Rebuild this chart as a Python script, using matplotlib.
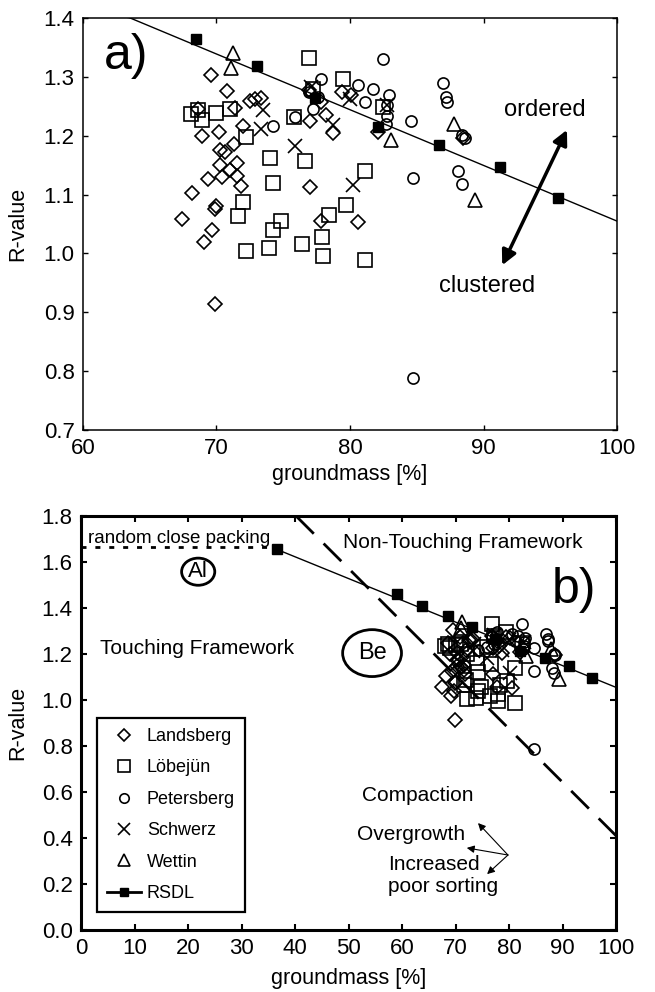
import matplotlib
matplotlib.use('Agg')
import matplotlib.pyplot as plt
from matplotlib.lines import Line2D
from matplotlib.patches import Ellipse

plt.rcParams['font.family'] = ['Liberation Sans', 'DejaVu Sans']

## Data (groundmass [%], R-value)
landsberg_x = [67.4, 68.2, 69.1, 69.7, 70.0, 69.9, 69.9, 69.4, 70.4, 70.3, 71.0, 71.5, 71.5, 71.8,
               70.3, 70.6, 71.3, 69.6, 70.8, 68.6, 71.4, 72.5, 72.9, 73.3, 68.9, 70.2, 72.0,
               77.0, 77.8, 80.6, 77.0, 78.2, 78.7, 79.4, 80.1, 77.8, 82.1, 88.5, 76.9]
landsberg_y = [1.058, 1.103, 1.019, 1.040, 1.080, 1.075, 0.914, 1.126, 1.130, 1.150, 1.142, 1.132, 1.153, 1.114,
               1.176, 1.173, 1.186, 1.303, 1.276, 1.246, 1.247, 1.259, 1.262, 1.265, 1.200, 1.206, 1.217,
               1.113, 1.055, 1.053, 1.225, 1.235, 1.204, 1.274, 1.269, 1.257, 1.207, 1.196, 1.277]

lobejun_x = [68.1, 68.6, 68.9, 70.0, 71.0, 72.2, 74.0, 76.6, 74.2, 75.8, 76.9, 79.5, 77.2, 72.0,
             71.6, 74.8, 78.4, 79.7, 74.2, 72.2, 73.9, 76.4, 77.9, 78.0, 81.1, 81.1, 82.5]
lobejun_y = [1.237, 1.243, 1.227, 1.238, 1.245, 1.198, 1.162, 1.157, 1.120, 1.232, 1.332, 1.296, 1.280, 1.087,
             1.064, 1.055, 1.066, 1.083, 1.040, 1.005, 1.010, 1.016, 1.028, 0.995, 0.989, 1.140, 1.249]

petersberg_x = [82.5, 77.8, 80.6, 81.7, 82.9, 81.1, 82.8, 82.8, 84.6, 77.2, 76.9, 77.6, 75.9, 74.2,
                87.0, 87.2, 87.3, 88.4, 88.6, 84.7, 88.1, 88.4, 84.7, 82.7]
petersberg_y = [1.330, 1.296, 1.286, 1.279, 1.269, 1.257, 1.252, 1.233, 1.225, 1.245, 1.274, 1.266, 1.232, 1.217,
                1.289, 1.266, 1.257, 1.201, 1.196, 1.128, 1.140, 1.118, 0.788, 1.220]

schwerz_x = [73.5, 73.3, 75.9, 77.1, 78.7, 80.0, 80.2, 82.8]
schwerz_y = [1.244, 1.212, 1.183, 1.283, 1.218, 1.262, 1.116, 1.252]

wettin_x = [71.2, 71.1, 83.1, 87.8, 89.4]
wettin_y = [1.340, 1.315, 1.193, 1.220, 1.091]

rsdl_x = [36.6, 59.1, 63.7, 68.5, 73.0, 77.4, 82.1, 86.7, 91.2, 95.6]
rsdl_y = [1.655, 1.461, 1.410, 1.364, 1.318, 1.264, 1.215, 1.184, 1.147, 1.094]
rsdl_line_x = [36.6, 100]
rsdl_line_y = [1.655, 1.055]

boundary_x = [40.2, 100]
boundary_y = [1.80, 0.41]
rcp_x = [0, 36.6]
rcp_y = [1.665, 1.665]

series = [
    ('Landsberg', landsberg_x, landsberg_y, 'D', 7.4),
    ('Löbejün', lobejun_x, lobejun_y, 's', 9.6),
    ('Petersberg', petersberg_x, petersberg_y, 'o', 8.0),
    ('Schwerz', schwerz_x, schwerz_y, 'x', 10.5),
    ('Wettin', wettin_x, wettin_y, '^', 9.5),
]


def draw_data(ax):
    for name, xs, ys, mk, ms in series:
        ax.plot(xs, ys, linestyle='none', marker=mk, markersize=ms, markerfacecolor='none',
                markeredgecolor='black', markeredgewidth=1.2, color='black')
    ax.plot(rsdl_line_x, rsdl_line_y, color='black', lw=1.0)
    ax.plot(rsdl_x, rsdl_y, linestyle='none', marker='s', markersize=6.5, color='black')


def style_axes(ax, spine_w, tick_len, tick_w):
    for sp in ax.spines.values():
        sp.set_linewidth(spine_w)
    ax.tick_params(direction='in', top=True, right=True, length=tick_len, width=tick_w,
                   labelsize=16, pad=6)


fig = plt.figure(figsize=(6.55, 9.92), dpi=100)

# ---- panel a
ax_a = fig.add_axes([0.1267, 0.5665, 0.8153, 0.4153])
draw_data(ax_a)
ax_a.set_xlim(60, 100)
ax_a.set_ylim(0.7, 1.4)
ax_a.set_xticks([60, 70, 80, 90, 100])
ax_a.set_yticks([0.7, 0.8, 0.9, 1.0, 1.1, 1.2, 1.3, 1.4])
style_axes(ax_a, 1.1, 3.6, 1.0)
ax_a.set_xlabel('groundmass [%]', fontsize=15.5)
ax_a.set_ylabel('R-value', fontsize=15.5)
ax_a.xaxis.set_label_coords(0.5, -0.083)
ax_a.yaxis.set_label_coords(-0.103, 0.5)
ax_a.text(61.6, 1.335, 'a)', fontsize=36, ha='left', va='center')
ax_a.text(91.5, 1.244, 'ordered', fontsize=17, ha='left', va='center')
ax_a.text(90.3, 0.945, 'clustered', fontsize=17, ha='center', va='center')
ax_a.annotate('', xy=(96.25, 1.21), xytext=(91.4, 0.98),
              arrowprops=dict(arrowstyle='<|-|>', lw=2.5, mutation_scale=22, color='black',
                              shrinkA=0, shrinkB=0))

# ---- panel b
ax_b = fig.add_axes([0.1237, 0.0625, 0.8168, 0.4173])
draw_data(ax_b)
ax_b.plot(boundary_x, boundary_y, color='black', lw=2.0, dashes=(9, 5))
ax_b.plot(rcp_x, rcp_y, color='black', lw=2.0, dashes=(1.8, 3.2))
ax_b.set_xlim(0, 100)
ax_b.set_ylim(0, 1.8)
ax_b.set_xticks(range(0, 101, 10))
ax_b.set_yticks([0.0, 0.2, 0.4, 0.6, 0.8, 1.0, 1.2, 1.4, 1.6, 1.8])
ax_b.yaxis.set_major_formatter(matplotlib.ticker.FormatStrFormatter('%.1f'))
style_axes(ax_b, 2.2, 4.3, 1.5)
ax_b.set_xlabel('groundmass [%]', fontsize=15.5)
ax_b.set_ylabel('R-value', fontsize=15.5)
ax_b.xaxis.set_label_coords(0.5, -0.092)
ax_b.yaxis.set_label_coords(-0.099, 0.5)

ax_b.text(1.3, 1.704, 'random close packing', fontsize=13.5, ha='left', va='center')
ax_b.text(49.0, 1.683, 'Non-Touching Framework', fontsize=15, ha='left', va='center')
ax_b.text(3.6, 1.226, 'Touching Framework', fontsize=15, ha='left', va='center')
ax_b.text(88.0, 1.478, 'b)', fontsize=36, ha='left', va='center')

ax_b.add_patch(Ellipse((21.9, 1.558), 6.2, 0.118, fill=False, lw=2.0, ec='black'))
ax_b.text(21.9, 1.558, 'Al', fontsize=16, ha='center', va='center')
ax_b.add_patch(Ellipse((54.4, 1.204), 11.0, 0.204, fill=False, lw=2.0, ec='black'))
ax_b.text(54.4, 1.204, 'Be', fontsize=17, ha='center', va='center')

ax_b.text(52.5, 0.583, 'Compaction', fontsize=15, ha='left', va='center')
ax_b.text(51.6, 0.417, 'Overgrowth', fontsize=15, ha='left', va='center')
ax_b.text(57.4, 0.235, 'Increased\npoor sorting', fontsize=15, ha='left', va='center',
          linespacing=1.2)
for hx, hy in [(74.2, 0.465), (72.1, 0.357), (75.9, 0.243)]:
    ax_b.annotate('', xy=(hx, hy), xytext=(79.8, 0.326),
                  arrowprops=dict(arrowstyle='-|>', lw=0.8, mutation_scale=11, color='black',
                                  shrinkA=0, shrinkB=0))

handles = [Line2D([], [], linestyle='none', marker=mk, markersize=ms * 0.85, markerfacecolor='none',
                  markeredgecolor='black', markeredgewidth=1.2, label=name)
           for name, xs, ys, mk, ms in series]
handles.append(Line2D([], [], color='black', lw=2.0, marker='s', markersize=6, label='RSDL'))
leg = ax_b.legend(handles=handles, loc='upper left', bbox_to_anchor=(0.03, 0.512),
                  borderaxespad=0, fontsize=13, labelspacing=0.8, borderpad=0.55,
                  handlelength=1.9, handletextpad=0.3, fancybox=False, framealpha=1)
leg.get_frame().set_edgecolor('black')
leg.get_frame().set_linewidth(1.6)

plt.savefig('out.png', dpi=100)
plt.close()
